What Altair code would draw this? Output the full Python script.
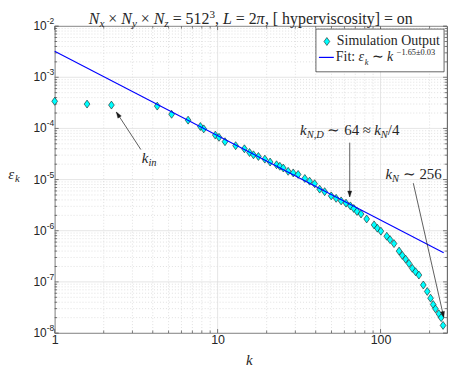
import math
import altair as alt
import pandas as pd

# ---------------- data ----------------
k_vals = [1, 1.58, 2.23, 4.26, 5.22, 6.59, 7.84, 8.22, 9.68, 10.2, 11.1, 12.9, 14.6,
          15.7, 16.6, 17.8, 19.5, 21.0, 23.0, 24.1, 25.3, 27.1, 29.1, 31.2, 34.3,
          36.7, 39.4, 42.3, 45.4, 49.8, 53.4, 57.3, 61.4, 65.3, 68.5, 71.7, 75.9,
          82.2, 91.3, 95.6, 100.5, 109.2, 114.4, 121, 130, 136, 142.6, 149.5,
          156.7, 164, 172, 183, 193.5, 202.8, 210.5, 217.4, 228, 235.5, 242]
eps_vals = [3.39e-4, 2.99e-4, 2.86e-4, 2.73e-4, 1.89e-4, 1.45e-4, 1.09e-4, 9.8e-5,
            7.4e-5, 6.7e-5, 5.5e-5, 4.6e-5, 4.0e-5, 3.38e-5, 3.05e-5, 2.83e-5,
            2.51e-5, 2.20e-5, 1.95e-5, 1.82e-5, 1.68e-5, 1.45e-5, 1.35e-5, 1.26e-5,
            1.05e-5, 9.3e-6, 8.3e-6, 6.5e-6, 5.8e-6, 4.8e-6, 4.3e-6, 3.83e-6,
            3.46e-6, 3.06e-6, 2.72e-6, 2.38e-6, 2.12e-6, 1.70e-6, 1.30e-6, 1.12e-6,
            9.8e-7, 7.8e-7, 6.7e-7, 5.6e-7, 4.0e-7, 3.3e-7, 2.78e-7, 2.29e-7,
            1.84e-7, 1.58e-7, 1.36e-7, 8.7e-8, 6.5e-8, 4.8e-8, 3.6e-8, 2.97e-8,
            2.38e-8, 2.0e-8, 1.41e-8]

fit_k = [1.0, 244.0]
fit_eps = [3.24e-3, 3.73e-7]

x_major = [1, 10, 100]
x_minor = [2, 3, 4, 5, 6, 7, 8, 9, 20, 30, 40, 50, 60, 70, 80, 90, 200]
y_exps = [-8, -7, -6, -5, -4, -3, -2]
y_major = [10.0 ** e for e in y_exps]
y_minor = [m * 10.0 ** e for e in range(-8, -2) for m in range(2, 10)]

# annotation arrows: tail (k, eps) -> head (k, eps)
arrow_k1 = [3.38, 64.7, 158.9]
arrow_e1 = [3.86e-5, 5.27e-5, 8.5e-6]
arrow_k2 = [2.39, 64.7, 244.5]
arrow_e2 = [2.09e-4, 4.57e-6, 2.02e-8]

# ---------------- layout ----------------
W, H = 395, 309
XD = [1, 256]
YD = [1e-8, 1e-2]
xs = alt.Scale(type="log", domain=XD, nice=False)
ys = alt.Scale(type="log", domain=YD, nice=False)
INK = "#262626"
SERIF = "Liberation Serif"
SANS = "Liberation Sans"


def px(v):
    return W * (math.log10(v) - math.log10(XD[0])) / (math.log10(XD[1]) - math.log10(XD[0]))


def py(v):
    return H * (math.log10(YD[1]) - math.log10(v)) / (math.log10(YD[1]) - math.log10(YD[0]))


x_axis = alt.Axis(values=x_major, format="d", labelFont=SANS, labelFontSize=12.5,
                  labelColor=INK, ticks=False, domain=False, grid=False,
                  labelPadding=1, labelFlush=False, title=None)


def X(f):
    return alt.X(f, type="quantitative", scale=xs, axis=x_axis)


def Y(f):
    return alt.Y(f, type="quantitative", scale=ys, axis=None)


RW = {' ': 250, '×': 564, '=': 564, ',': 250, '[': 333, ']': 333, 'a': 444, 'b': 500,
      'c': 444, 'd': 500, 'e': 444, 'f': 333, 'g': 500, 'h': 500, 'i': 278, 'j': 278,
      'k': 500, 'l': 278, 'm': 778, 'n': 500, 'o': 500, 'p': 500, 'r': 333, 's': 389,
      't': 278, 'u': 500, 'v': 500, 'x': 500, 'y': 500, 'z': 444, 'S': 556, 'O': 722,
      'F': 556, ':': 278, '.': 250, '/': 278, '±': 564, '−': 564, '∼': 838, '≈': 549}
for d in "0123456789":
    RW[d] = 500
IW = {'N': 667, 'x': 444, 'y': 444, 'z': 389, 'L': 556, 'k': 444, 'ε': 440, 'π': 520,
      'i': 278, 'n': 500, 'D': 722, ',': 250}

dummy = pd.DataFrame({"k": [1.0], "e": [1e-5]})


def rich(segs, size, df, xenc, yenc, align="center", color=INK, sub=0.7, sup_raise=0.38):
    items = []
    cur = 0.0
    for t, it, pos in segs:
        fs = size if pos == "n" else size * sub
        tbl = IW if it else RW
        lead = len(t) - len(t.lstrip(" "))
        x0 = cur + lead * 250 / 1000 * fs
        cur += sum(tbl.get(c, RW.get(c, 500)) for c in t) / 1000 * fs
        items.append((t.strip(" "), it, pos, fs, x0))
    off = -cur / 2 if align == "center" else 0.0
    out = []
    for t, it, pos, fs, x0 in items:
        dy = 0.0 if pos == "n" else (0.32 * size if pos == "sub" else -sup_raise * size)
        out.append(alt.Chart(df).mark_text(
            text=t, align="left", baseline="middle", font=SERIF, fontSize=fs,
            fontStyle="italic" if it else "normal", dx=x0 + off, dy=dy, color=color
        ).encode(x=xenc, y=yenc))
    return out


layers = []

# grid
layers.append(alt.Chart(pd.DataFrame({"v": x_minor})).mark_rule(
    color="#cccccc", strokeWidth=0.6, strokeDash=[1, 2]).encode(x=X("v")))
layers.append(alt.Chart(pd.DataFrame({"v": y_minor})).mark_rule(
    color="#cccccc", strokeWidth=0.6, strokeDash=[1, 2]).encode(y=Y("v")))
layers.append(alt.Chart(pd.DataFrame({"v": x_major})).mark_rule(
    color="#dedede", strokeWidth=0.8).encode(x=X("v")))
layers.append(alt.Chart(pd.DataFrame({"v": y_major})).mark_rule(
    color="#dedede", strokeWidth=0.8).encode(y=Y("v")))

# inward ticks
for vals, ln in ((x_major, 4), (x_minor, 2.5)):
    d = pd.DataFrame({"v": vals})
    layers.append(alt.Chart(d).mark_rule(color=INK, strokeWidth=0.6).encode(
        x=X("v"), y=alt.value(H), y2=alt.value(H - ln)))
    layers.append(alt.Chart(d).mark_rule(color=INK, strokeWidth=0.6).encode(
        x=X("v"), y=alt.value(0), y2=alt.value(ln)))
for vals, ln in ((y_major, 4), (y_minor, 2.5)):
    d = pd.DataFrame({"v": vals})
    layers.append(alt.Chart(d).mark_rule(color=INK, strokeWidth=0.6).encode(
        y=Y("v"), x=alt.value(0), x2=alt.value(ln)))
    layers.append(alt.Chart(d).mark_rule(color=INK, strokeWidth=0.6).encode(
        y=Y("v"), x=alt.value(W), x2=alt.value(W - ln)))

# data
DIAMOND = "M0,-1L0.72,0L0,1L-0.72,0Z"
df = pd.DataFrame({"k": k_vals, "e": eps_vals})
layers.append(alt.Chart(df).mark_point(
    shape=DIAMOND, filled=True, fill="#00FFFF", stroke="#1a1a1a", strokeWidth=0.6,
    size=64, opacity=1).encode(x=X("k"), y=Y("e")))

# fit line
fdf = pd.DataFrame({"k": fit_k, "e": fit_eps})
layers.append(alt.Chart(fdf).mark_line(color="#0000FF", strokeWidth=1.1).encode(
    x=X("k"), y=Y("e")))

# y tick labels (10 with superscript exponent)
ydf = pd.DataFrame({"v": y_major, "ex": ["-" + str(-e) for e in y_exps]})
layers.append(alt.Chart(ydf).mark_text(
    text="10", align="right", baseline="middle", font=SANS, fontSize=12, color=INK
).encode(x=alt.value(-8), y=Y("v")))
layers.append(alt.Chart(ydf).mark_text(
    align="left", baseline="middle", font=SANS, fontSize=8.5, color=INK, dy=-5
).encode(x=alt.value(-8), y=Y("v"), text="ex:N"))

# arrows
ang = []
for a, b, c, d in zip(arrow_k1, arrow_e1, arrow_k2, arrow_e2):
    dx = px(c) - px(a)
    dy = py(d) - py(b)
    ang.append(math.degrees(math.atan2(dx, -dy)) % 360)
adf = pd.DataFrame({"k1": arrow_k1, "e1": arrow_e1, "k2": arrow_k2, "e2": arrow_e2,
                    "ang": ang})
layers.append(alt.Chart(adf).mark_rule(color="#1a1a1a", strokeWidth=0.7).encode(
    x=X("k1"), y=Y("e1"), x2="k2", y2="e2"))
HEAD = "M0,0L0.7,2L-0.7,2Z"
layers.append(alt.Chart(adf).mark_point(
    shape=HEAD, filled=True, fill="#1a1a1a", stroke="#1a1a1a", strokeWidth=0.3,
    size=36, opacity=1).encode(x=X("k2"), y=Y("e2"),
                              angle=alt.Angle("ang:Q", scale=None)))


def at(kv, ev):
    return pd.DataFrame({"k": [kv], "e": [ev]})


# annotation texts
layers += rich([("k", 1, "n"), ("in", 1, "sub")], 15, at(3.8, 2.59e-5), X("k"), Y("e"))
layers += rich([("k", 1, "n"), ("N,D", 1, "sub"), (" ∼ 64 ≈ ", 0, "n"), ("k", 1, "n"),
                ("N", 1, "sub"), ("/4", 0, "n")], 15, at(64.7, 9.4e-5), X("k"), Y("e"))
layers += rich([("k", 1, "n"), ("N", 1, "sub"), (" ∼ 256", 0, "n")], 15,
               at(158.9, 1.27e-5), X("k"), Y("e"))

# title
layers += rich([("N", 1, "n"), ("x", 1, "sub"), (" × ", 0, "n"), ("N", 1, "n"),
                ("y", 1, "sub"), (" × ", 0, "n"), ("N", 1, "n"), ("z", 1, "sub"),
                (" = 512", 0, "n"), ("3", 0, "sup"), (", ", 0, "n"), ("L", 1, "n"),
                (" = 2", 0, "n"), ("π", 1, "n"), (", [ hyperviscosity] = on", 0, "n")],
               16, dummy, alt.value(W / 2), alt.value(-7.5), sup_raise=0.22)

# axis titles
layers += rich([("k", 1, "n")], 15, dummy, alt.value(196), alt.value(H + 27))
layers += rich([("ε", 1, "n"), ("k", 1, "sub")], 15, dummy, alt.value(-41), alt.value(149))

# legend
layers.append(alt.Chart(dummy).mark_rect(
    fill="white", stroke=INK, strokeWidth=0.7).encode(
    x=alt.value(263), x2=alt.value(392), y=alt.value(3), y2=alt.value(46)))
layers.append(alt.Chart(dummy).mark_point(
    shape=DIAMOND, filled=True, fill="#00FFFF", stroke="#1a1a1a", strokeWidth=0.6,
    size=64, opacity=1).encode(x=alt.value(274), y=alt.value(15.5)))
layers.append(alt.Chart(dummy).mark_rule(color="#0000FF", strokeWidth=1.2).encode(
    x=alt.value(266), x2=alt.value(281), y=alt.value(31.5)))
layers += rich([("Simulation Output", 0, "n")], 14, dummy, alt.value(284),
               alt.value(15.5), align="left")
layers += rich([("Fit: ", 0, "n"), ("ε", 1, "n"), ("k", 1, "sub"), (" ∼ ", 0, "n"),
                ("k ", 1, "n"), ("−1.65±0.03", 0, "sup")], 14, dummy, alt.value(283),
               alt.value(31.5), align="left", sub=0.6, sup_raise=0.36)

chart = alt.layer(*layers).properties(
    width=W, height=H,
    autosize=alt.AutoSizeParams(type="none"),
    padding={"left": 47, "top": 17, "right": 8, "bottom": 40},
).configure_view(stroke=INK, strokeWidth=0.8)

chart.save("out.html", embed_options={"renderer": "svg", "actions": False})
